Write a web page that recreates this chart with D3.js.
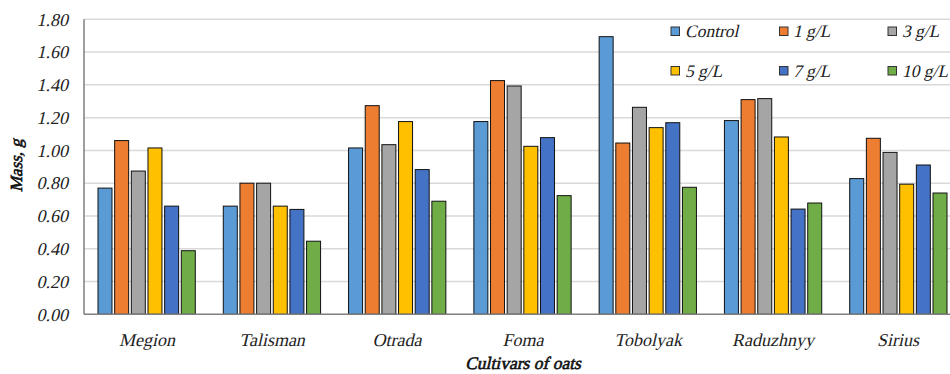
<!DOCTYPE html>
<html><head><meta charset="utf-8">
<script src="https://cdn.jsdelivr.net/npm/d3@7"></script>
</head>
<body style="margin:0">
<div id="wrap" style="position:relative;width:950px;height:374px;overflow:hidden;background:#fff">
<svg id="chart" width="950" height="374" style="position:absolute;left:0;top:0"></svg>
</div>
<script>
const categories = ["Megion","Talisman","Otrada","Foma","Tobolyak","Raduzhnyy","Sirius"];
const seriesNames = ["Control","1 g/L","3 g/L","5 g/L","7 g/L","10 g/L"];
const control = [0.77,0.66,1.015,1.176,1.694,1.182,0.828];
const g1 = [1.06,0.80,1.273,1.426,1.045,1.31,1.074];
const g3 = [0.874,0.80,1.035,1.393,1.263,1.316,0.988];
const g5 = [1.015,0.66,1.176,1.025,1.139,1.082,0.794];
const g7 = [0.66,0.64,0.883,1.078,1.169,0.642,0.911];
const g10 = [0.388,0.446,0.69,0.724,0.775,0.679,0.74];
const yTicks = [0,0.2,0.4,0.6,0.8,1.0,1.2,1.4,1.6,1.8];
const colors = ["#5b9bd5","#ed7d31","#a5a5a5","#ffc000","#4472c4","#70ad47"];

const seriesValues = [control,g1,g3,g5,g7,g10];
const wrap = d3.select("#wrap");
const svg = d3.select("#chart");

// HTML text label positioned by its baseline; slanted serif text
function label(text, x, baseline, anchor, size, bold, color, rotate) {
  const off = 0.3375 * size;
  const shift = anchor === "middle" ? "-50%" : anchor === "end" ? "-100%" : "0";
  const d = wrap.append("div")
    .style("position","absolute")
    .style("left", x + "px")
    .style("top", (baseline - off) + "px")
    .style("line-height","0")
    .style("white-space","nowrap")
    .style("font-family","Liberation Serif")
    .style("font-style","normal")
    .style("font-weight","normal")
    .style("font-size", size + "px")
    .style("color", color)
    .style("transform-origin", "0px " + off + "px")
    .text(text);
  if (bold) d.style("-webkit-text-stroke", "0.6px " + color);
  if (rotate) {
    d.style("transform", "rotate(-90deg) translateX(" + shift + ") skewX(-13deg)");
  } else {
    d.style("transform", "translateX(" + shift + ") skewX(-13deg)");
  }
  return d;
}

const x0 = d3.scaleBand().domain(categories).range([84, 961]).paddingInner(0).paddingOuter(0);
const groupPad = 14;
const x1 = d3.scaleBand().domain(seriesNames).range([groupPad, x0.bandwidth()-groupPad]).paddingInner(0.16).paddingOuter(0);
const y = d3.scaleLinear().domain([0,1.8]).range([314.3,19.3]);

// gridlines
svg.append("g").selectAll("line").data(yTicks.filter(d=>d>0)).join("line")
  .attr("x1",84).attr("x2",961)
  .attr("y1",d=>y(d)).attr("y2",d=>y(d))
  .attr("stroke","#d9d9d9").attr("stroke-width",1.5);

// bars
const groups = svg.append("g").selectAll("g").data(categories).join("g")
  .attr("transform",d=>`translate(${x0(d)},0)`);
groups.selectAll("rect").data((c,ci)=>seriesNames.map((s,si)=>({s,si,v:seriesValues[si][ci]}))).join("rect")
  .attr("x",d=>x1(d.s)).attr("width",x1.bandwidth())
  .attr("y",d=>y(d.v)).attr("height",d=>y(0)-y(d.v))
  .attr("fill",d=>colors[d.si]).attr("stroke","#111").attr("stroke-width",1);

// axis lines
svg.append("line").attr("x1",84).attr("x2",84).attr("y1",y(1.8)).attr("y2",y(0))
  .attr("stroke","#7f7f7f").attr("stroke-width",1.5);
svg.append("line").attr("x1",84).attr("x2",961).attr("y1",y(0)).attr("y2",y(0))
  .attr("stroke","#7f7f7f").attr("stroke-width",1.5);

// y tick labels
yTicks.forEach(t => label(d3.format(".2f")(t), 68, y(t) + 6.3, "end", 18, false, "#222"));

// category labels
categories.forEach(c => label(c, x0(c) + x0.bandwidth()/2, 346.5, "middle", 18, false, "#222"));

// axis titles
label("Cultivars of oats", 522.5, 369, "middle", 17.5, true, "#111");
label("Mass, g", 22.5, 166, "middle", 17, true, "#111", true);

// legend
const legX = [671, 779.5, 888];
const legY = [31, 70.5];
const leg = svg.append("g").selectAll("g").data(seriesNames).join("g")
  .attr("transform",(d,i)=>`translate(${legX[i%3]},${legY[Math.floor(i/3)]})`);
leg.append("rect").attr("x",0).attr("y",-4).attr("width",8.5).attr("height",8.5)
  .attr("fill",(d,i)=>colors[i]).attr("stroke","#333").attr("stroke-width",1);
seriesNames.forEach((s,i) => label(s, legX[i%3] + 13.5, legY[Math.floor(i/3)] + 6, "start", 17.5, false, "#222"));
</script>
</body></html>
